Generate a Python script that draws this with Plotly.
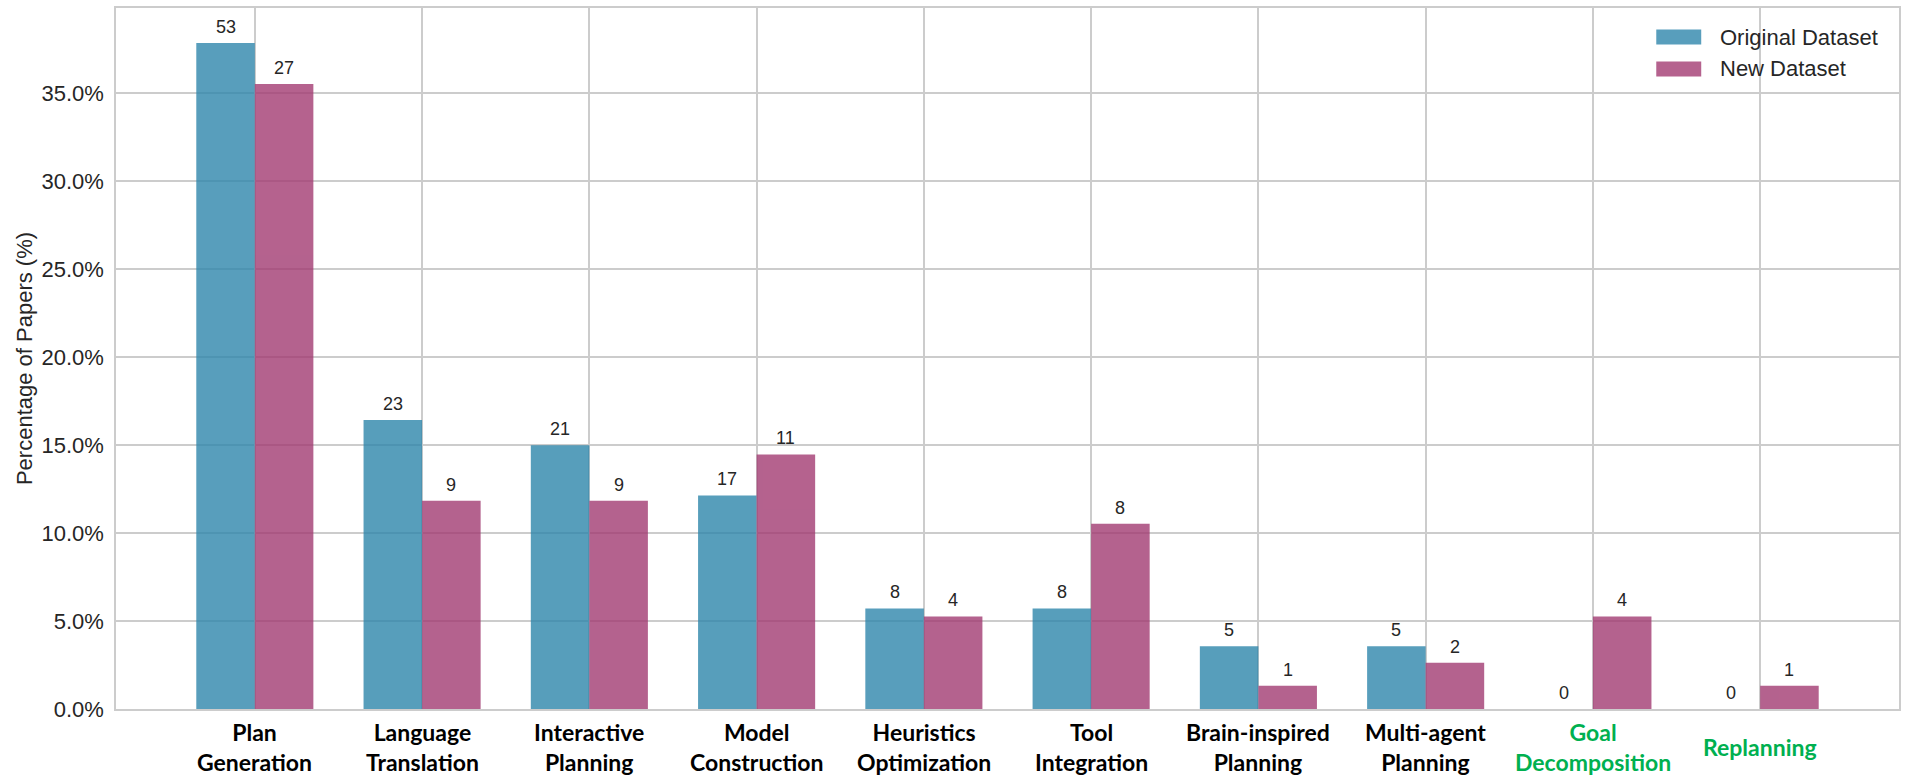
import plotly.graph_objects as go

categories = ["Plan<br>Generation", "Language<br>Translation", "Interactive<br>Planning",
              "Model<br>Construction", "Heuristics<br>Optimization", "Tool<br>Integration",
              "Brain-inspired<br>Planning", "Multi-agent<br>Planning", "Goal<br>Decomposition",
              "Replanning"]
highlight = [False, False, False, False, False, False, False, False, True, True]
original_counts = [53, 23, 21, 17, 8, 8, 5, 5, 0, 0]
new_counts = [27, 9, 9, 11, 4, 8, 1, 2, 4, 1]
series_names = ["Original Dataset", "New Dataset"]
ytick_vals = [0, 5, 10, 15, 20, 25, 30, 35]
ytick_text = ["0.0%", "5.0%", "10.0%", "15.0%", "20.0%", "25.0%", "30.0%", "35.0%"]

orig_total = sum(original_counts)
new_total = sum(new_counts)
original_pct = [c / orig_total * 100 for c in original_counts]
new_pct = [c / new_total * 100 for c in new_counts]

BLUE = "#2E86AB"
PINK = "#A23B72"
GRID = "#cccccc"
TXT = "#262626"
BAR_W = 0.35
idx = list(range(len(categories)))

W, H = 1906, 783
ML, MR, MT, MB = 116, 5, 8, 74
PW, PH = W - ML - MR, H - MT - MB


def px_x(px):
    return (px - ML) / PW


def px_y(py):
    return 1 - (py - MT) / PH


fig = go.Figure()
fig.add_trace(go.Bar(x=idx, y=original_pct, name=series_names[0], width=BAR_W, offset=-BAR_W,
                     marker=dict(color=BLUE, line=dict(width=0)), opacity=0.8, showlegend=False))
fig.add_trace(go.Bar(x=idx, y=new_pct, name=series_names[1], width=BAR_W, offset=0,
                     marker=dict(color=PINK, line=dict(width=0)), opacity=0.8, showlegend=False))

num_font = dict(family="Liberation Sans, Arial", size=18, color=TXT)
annotations = []
for i in idx:
    annotations.append(dict(x=i - BAR_W / 2, y=original_pct[i], xref="x", yref="y",
                            text=str(original_counts[i]), showarrow=False, yanchor="bottom",
                            yshift=4, font=num_font))
    annotations.append(dict(x=i + BAR_W / 2, y=new_pct[i], xref="x", yref="y",
                            text=str(new_counts[i]), showarrow=False, yanchor="bottom",
                            yshift=4, font=num_font))
    annotations.append(dict(x=i, y=0, xref="x", yref="paper", text=categories[i],
                            showarrow=False, yanchor="middle", yshift=-38,
                            font=dict(family="Lato", size=23, weight="bold",
                                      color="#00B050" if highlight[i] else "#000000")))

# legend (drawn manually to match swatch size and spacing)
shapes = []
legend_colors = [BLUE, PINK]
legend_rows = [37, 69]
for name, col, cy in zip(series_names, legend_colors, legend_rows):
    shapes.append(dict(type="rect", xref="paper", yref="paper",
                       x0=px_x(1658), x1=px_x(1703), y0=px_y(cy + 7.5), y1=px_y(cy - 7.5),
                       fillcolor=col, opacity=0.8, line=dict(width=0), layer="above"))
    annotations.append(dict(x=px_x(1720), y=px_y(cy), xref="paper", yref="paper", text=name,
                            showarrow=False, xanchor="left", yanchor="middle",
                            font=dict(family="Liberation Sans, Arial", size=22, color=TXT)))

fig.update_layout(
    width=W, height=H,
    margin=dict(l=ML, r=MR, t=MT, b=MB),
    plot_bgcolor="white", paper_bgcolor="white",
    barmode="overlay",
    showlegend=False,
    hovermode=False,
    annotations=annotations,
    shapes=shapes,
    xaxis=dict(range=[-0.83, 9.83], tickvals=idx, showticklabels=False, ticks="",
               showgrid=True, gridcolor=GRID, gridwidth=1.5, zeroline=False,
               showline=True, linecolor=GRID, linewidth=1.5, mirror=True),
    yaxis=dict(range=[0, 39.85], tickvals=ytick_vals, ticktext=ytick_text,
               ticks="", ticklabelstandoff=6, showgrid=True, gridcolor=GRID, gridwidth=1.5,
               zeroline=False, showline=True, linecolor=GRID, linewidth=1.5, mirror=True,
               tickfont=dict(family="Liberation Sans, Arial", size=22, color=TXT),
               title=dict(text="Percentage of Papers (%)", standoff=3,
                          font=dict(family="Liberation Sans, Arial", size=22, color=TXT))),
)

fig.write_html("out.html", config={"displayModeBar": False},
               post_script="document.body.style.margin='0';document.body.style.overflow='hidden';")
